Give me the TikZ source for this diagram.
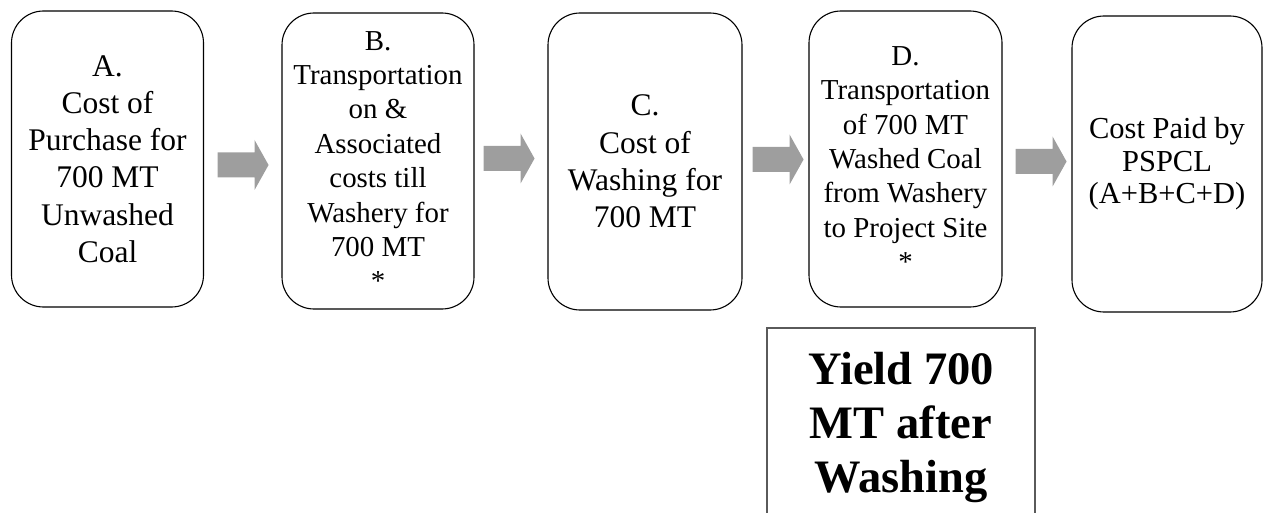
\documentclass[tikz,border=0pt]{standalone}
\usepackage{fontspec}
\setmainfont{Liberation Serif}
\definecolor{arrowgray}{RGB}{158,158,158}
\definecolor{yieldline}{RGB}{90,90,90}
\begin{document}
\begin{tikzpicture}[x=1pt,y=-1pt,
  stepbox/.style={draw=black, line width=1.1pt, rounded corners=32pt, inner sep=0pt, align=center},
  fontbig/.style={font=\fontsize{31.5}{37.2}\selectfont},
  fontmid/.style={font=\fontsize{28.9}{34.4}\selectfont},
  fontend/.style={font=\fontsize{30.5}{32.6}\selectfont},
  yieldbox/.style={draw=yieldline, line width=1.1pt, inner sep=0pt, align=center, font=\bfseries\fontsize{46.5}{54}\selectfont},
  blockarrow/.pic={\fill[arrowgray] (0,-12.5) -- (37,-12.5) -- (37,-25) -- (51,0) -- (37,25) -- (37,12.5) -- (0,12.5) -- cycle;}]
\useasboundingbox (0,0) rectangle (1263,513);
\clip (0,0) rectangle (1263,513);

\node[stepbox, fontbig, minimum width=192pt, minimum height=296pt] (A) at (107.5,159)
  {A.\\ Cost of\\ Purchase for\\ 700 MT\\ Unwashed\\ Coal};
\node[stepbox, fontmid, minimum width=192pt, minimum height=296pt] (B) at (378,161)
  {B.\\ Transportation\\ on \&\\ Associated\\ costs till\\ Washery for\\ 700 MT\\ *};
\node[stepbox, fontbig, minimum width=194pt, minimum height=297pt] (C) at (645,161.5)
  {C.\\ Cost of\\ Washing for\\ 700 MT};
\node[stepbox, fontmid, minimum width=193pt, minimum height=296pt] (D) at (905.5,159)
  {D.\\ Transportation\\ of 700 MT\\ Washed Coal\\ from Washery\\ to Project Site\\ *};
\node[stepbox, fontend, minimum width=190pt, minimum height=296pt] (E) at (1167,164)
  {Cost Paid by\\ PSPCL\\ (A+B+C+D)};
\node[yieldbox, minimum width=268pt, minimum height=198pt] (Y) at (901,427)
  {Yield 700\\ MT after\\ Washing};

\path (A.east) ++(13.5,6) pic {blockarrow};
\path (B.east) ++(9,-2.5) pic {blockarrow};
\path (C.east) ++(10,-2) pic {blockarrow};
\path (D.east) ++(13,2.5) pic {blockarrow};
\end{tikzpicture}
\end{document}
